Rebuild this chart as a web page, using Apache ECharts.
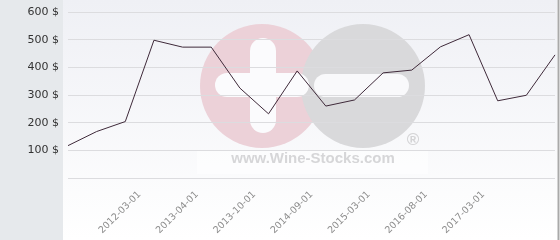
<!DOCTYPE html>
<html>
<head>
<meta charset="utf-8">
<script src="https://cdn.jsdelivr.net/npm/echarts@6/dist/echarts.min.js"></script>
<style>
html,body{margin:0;padding:0;background:#fff;}
#chart{width:560px;height:240px;}
</style>
</head>
<body>
<div id="chart"></div>
<script>
// Data points (18 equally spaced observations)
var pointIds = ['1','2','3','4','5','6','7','8','9','10','11','12','13','14','15','16','17','18'];
var prices = [117, 168, 204, 498, 473, 473, 325, 232, 387, 260, 282, 380, 390, 474, 518, 279, 299, 445];
// Visible x tick labels
var tickLabels = ['2012-03-01','2013-04-01','2013-10-01','2014-09-01','2015-03-01','2016-08-01','2017-03-01'];
// y ticks
var yMin = 0, yMax = 600, yStep = 100;

var slotCount = 17;
var labelSlots = [];
for (var i = 0; i < slotCount; i++) labelSlots.push('');
for (var k = 0; k < tickLabels.length; k++) labelSlots[2 + 2 * k] = tickLabels[k];

var chart = echarts.init(document.getElementById('chart'), null, {renderer: 'canvas'});
var option = {
  animation: false,
  graphic: [
    {type: 'rect', z: -10, silent: true, shape: {x: 0, y: 0, width: 63, height: 240}, style: {fill: '#e6e9ec'}},
    {type: 'rect', z: -10, silent: true, shape: {x: 63, y: 0, width: 494, height: 240},
      style: {fill: new echarts.graphic.LinearGradient(0, 0, 0, 1, [{offset: 0, color: '#eff0f5'}, {offset: 1, color: '#ffffff'}])}},
    {type: 'rect', z: -10, silent: true, shape: {x: 557, y: 0, width: 3, height: 240}, style: {fill: '#ffffff'}},
    {type: 'rect', z: -9, silent: true, shape: {x: 557.5, y: 0, width: 2, height: 240}, style: {fill: '#a9a9a9'}},
    // watermark
    {type: 'rect', z: -8, silent: true, shape: {x: 197, y: 150, width: 231, height: 24}, style: {fill: 'rgba(255,255,255,0.55)'}},
    {type: 'circle', z: -8, silent: true, shape: {cx: 262, cy: 86, r: 62}, style: {fill: '#ecd1d8'}},
    {type: 'circle', z: -8, silent: true, shape: {cx: 363, cy: 86, r: 62}, style: {fill: '#d9d9db'}},
    {type: 'rect', z: -8, silent: true, shape: {x: 250, y: 38, width: 26, height: 95, r: 13}, style: {fill: '#fbfbfd'}},
    {type: 'rect', z: -8, silent: true, shape: {x: 215, y: 73, width: 94, height: 24, r: 12}, style: {fill: '#fbfbfd'}},
    {type: 'rect', z: -8, silent: true, shape: {x: 314, y: 74, width: 95, height: 23, r: 11.5}, style: {fill: '#f9f9fb'}},
    {type: 'text', z: -8, silent: true, style: {x: 313, y: 166, text: 'www.Wine-Stocks.com', fill: '#d6d6d8',
      font: 'bold 15px "Liberation Sans", Arial, sans-serif', textAlign: 'center', textVerticalAlign: 'bottom'}},
    {type: 'text', z: -8, silent: true, style: {x: 413, y: 140, text: '®', fill: '#d4d4d6',
      font: 'bold 17px "Liberation Sans", Arial, sans-serif', textAlign: 'center', textVerticalAlign: 'middle'}}
  ],
  grid: {left: 68, right: 5, top: 12, bottom: 62, containLabel: false},
  xAxis: [
    {
      type: 'category', data: pointIds, boundaryGap: false,
      axisLine: {show: false}, axisTick: {show: false}, axisLabel: {show: false}, splitLine: {show: false}
    },
    {
      type: 'category', data: labelSlots, boundaryGap: true, position: 'bottom',
      axisLine: {show: false}, axisTick: {show: false}, splitLine: {show: false},
      axisLabel: {interval: 0, rotate: 45, margin: 15, color: '#8c8c8c', fontSize: 9.5, fontFamily: '"DejaVu Sans", sans-serif'}
    }
  ],
  yAxis: {
    type: 'value', min: yMin, max: yMax, interval: yStep,
    axisLine: {show: false}, axisTick: {show: false},
    splitLine: {lineStyle: {color: '#dcdcdf', width: 1}},
    axisLabel: {margin: 9, color: '#333333', fontSize: 11, fontFamily: '"DejaVu Sans", sans-serif',
      formatter: function (v) { return v === 0 ? '' : v + ' $'; }}
  },
  series: [{
    type: 'line', xAxisIndex: 0, data: prices, showSymbol: false, symbol: 'none',
    lineStyle: {color: '#3f2a3a', width: 1}, z: 5
  }]
};
chart.setOption(option);
</script>
</body>
</html>
